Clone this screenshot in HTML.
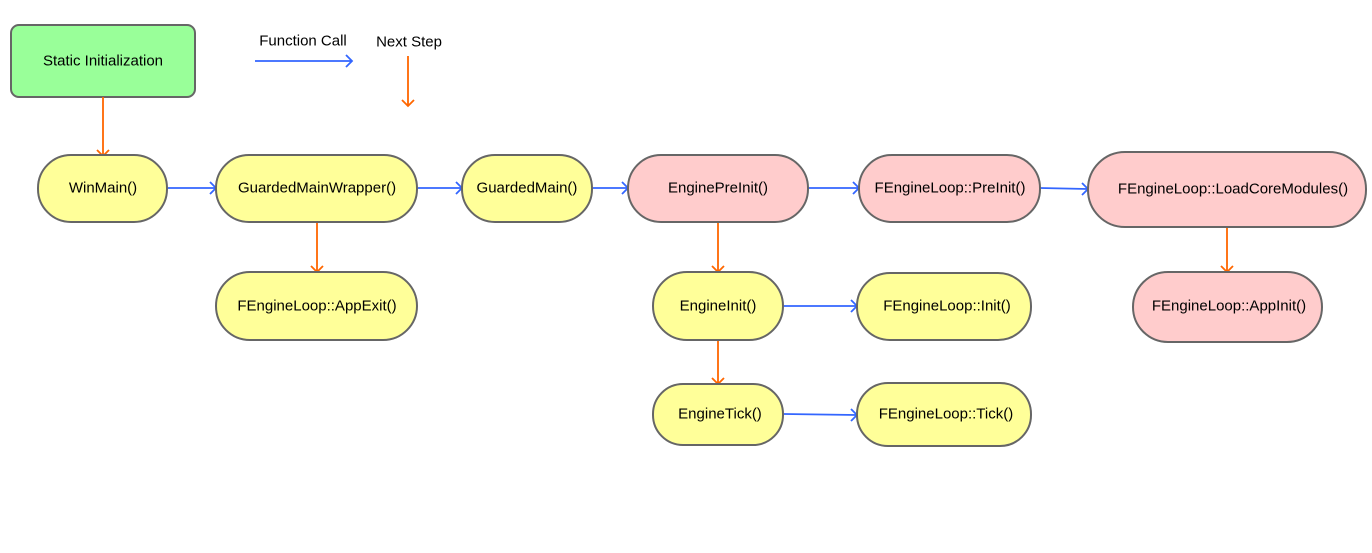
<!DOCTYPE html>
<html><head><meta charset="utf-8"><style>
body{margin:0;background:#fff;}
svg{display:block;font-family:"Liberation Sans",Arial,sans-serif;}
text{font-size:15px;fill:#000;text-anchor:middle;dominant-baseline:central;}
.y{fill:#ffff99;stroke:#666;stroke-width:2;}
.p{fill:#ffcccc;stroke:#666;stroke-width:2;}
.b{stroke:#3366ff;stroke-width:1.8;fill:none;}
.o{stroke:#ff6600;stroke-width:1.8;fill:none;}
</style></head><body>
<svg width="1372" height="553" viewBox="0 0 1372 553">
<rect x="11" y="25" width="184" height="72" rx="8" fill="#99ff99" stroke="#666" stroke-width="2"/>
<text x="103" y="61">Static Initialization</text>
<text x="303" y="41">Function Call</text>
<text x="409" y="42">Next Step</text>
<path class="b" d="M255 61H352M346 55l6 6-6 6"/>
<path class="o" d="M408 56V106M402 100l6 6 6-6"/>

<path class="o" d="M103 97V156M97 150l6 6 6-6"/>
<path class="b" d="M168 188H216M210 182l6 6-6 6"/>
<path class="b" d="M418 188H462M456 182l6 6-6 6"/>
<path class="b" d="M593 188H628M622 182l6 6-6 6"/>
<path class="b" d="M808 188H859M853 182l6 6-6 6"/>
<path class="b" d="M1040 188L1088 189M1082 183l6 6-6 6"/>
<path class="o" d="M317 223V272M311 266l6 6 6-6"/>
<path class="o" d="M718 223V272M712 266l6 6 6-6"/>
<path class="o" d="M718 341V384M712 378l6 6 6-6"/>
<path class="o" d="M1227 228V272M1221 266l6 6 6-6"/>
<path class="b" d="M784 306H857M851 300l6 6-6 6"/>
<path class="b" d="M784 414L857 415M851 409l6 6-6 6"/>

<rect class="y" x="38" y="155" width="129" height="67" rx="33"/><text x="103" y="188">WinMain()</text>
<rect class="y" x="216" y="155" width="201" height="67" rx="33"/><text x="317" y="188">GuardedMainWrapper()</text>
<rect class="y" x="462" y="155" width="130" height="67" rx="33"/><text x="527" y="188">GuardedMain()</text>
<rect class="p" x="628" y="155" width="180" height="67" rx="33"/><text x="718" y="188">EnginePreInit()</text>
<rect class="p" x="859" y="155" width="181" height="67" rx="33"/><text x="950" y="188">FEngineLoop::PreInit()</text>
<rect class="p" x="1088" y="152" width="278" height="75" rx="37"/><text x="1233" y="189">FEngineLoop::LoadCoreModules()</text>
<rect class="y" x="216" y="272" width="201" height="68" rx="34"/><text x="317" y="306">FEngineLoop::AppExit()</text>
<rect class="y" x="653" y="272" width="130" height="68" rx="34"/><text x="718" y="306">EngineInit()</text>
<rect class="y" x="857" y="273" width="174" height="67" rx="33"/><text x="947" y="306">FEngineLoop::Init()</text>
<rect class="p" x="1133" y="272" width="189" height="70" rx="35"/><text x="1229" y="306">FEngineLoop::AppInit()</text>
<rect class="y" x="653" y="384" width="130" height="61" rx="30"/><text x="720" y="414">EngineTick()</text>
<rect class="y" x="857" y="383" width="174" height="63" rx="31"/><text x="946" y="414">FEngineLoop::Tick()</text>
</svg>
</body></html>
